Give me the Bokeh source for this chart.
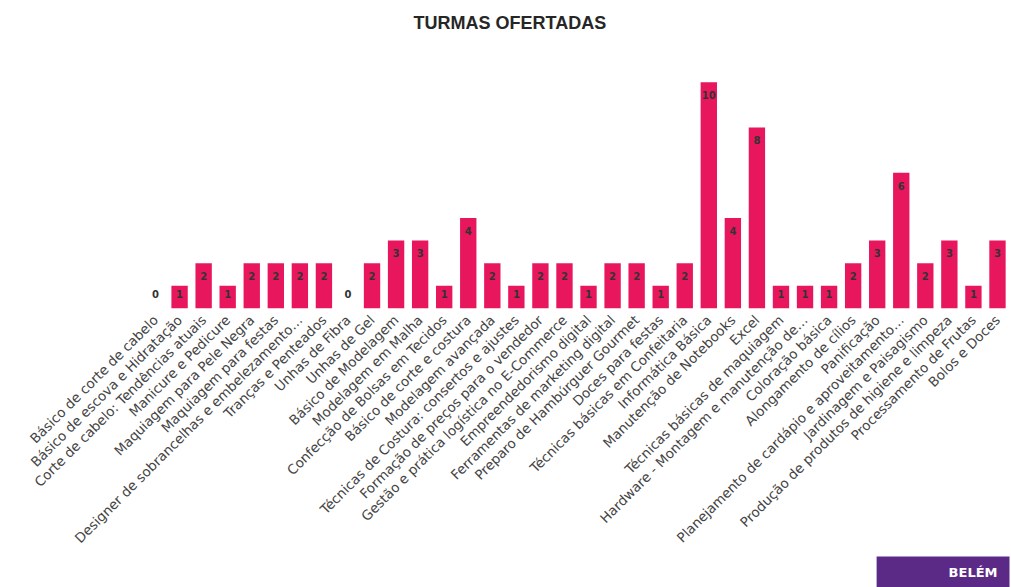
import math
from bokeh.plotting import figure
from bokeh.models import ColumnDataSource, FactorRange, Range1d, Title
from bokeh.core.properties import value
from bokeh.embed import file_html
from bokeh.resources import INLINE

title_text = "TURMAS OFERTADAS"
logo_text = "BELÉM"

cursos = [
    "Básico de corte de cabelo",
    "Básico de escova e Hidratação",
    "Corte de cabelo: Tendências atuais",
    "Manicure e Pedicure",
    "Maquiagem para Pele Negra",
    "Maquiagem para festas",
    "Designer de sobrancelhas e embelezamento…",
    "Tranças e Penteados",
    "Unhas de Fibra",
    "Unhas de Gel",
    "Básico de Modelagem",
    "Modelagem em Malha",
    "Confecção de Bolsas em Tecidos",
    "Básico de corte e costura",
    "Modelagem avançada",
    "Técnicas de Costura: consertos e ajustes",
    "Formação de preços para o vendedor",
    "Gestão e prática logística no E-Commerce",
    "Empreendedorismo digital",
    "Ferramentas de marketing digital",
    "Preparo de Hambúrguer Gourmet",
    "Doces para festas",
    "Técnicas básicas em Confeitaria",
    "Informática Básica",
    "Manutenção de Notebooks",
    "Excel",
    "Técnicas básicas de maquiagem",
    "Hardware - Montagem e manutenção de…",
    "Coloração básica",
    "Alongamento de cílios",
    "Panificação",
    "Planejamento de cardápio e aproveitamento…",
    "Jardinagem e Paisagismo",
    "Produção de produtos de higiene e limpeza",
    "Processamento de Frutas",
    "Bolos e Doces",
]

turmas = [0, 1, 2, 1, 2, 2, 2, 2, 0, 2, 3, 3, 1, 4, 2, 1, 2, 2, 1, 2, 2, 1, 2,
          10, 4, 8, 1, 1, 1, 2, 3, 6, 2, 3, 1, 3]

label_y = [max(v - 0.57, 0.62) for v in turmas]

src = ColumnDataSource(dict(
    x=cursos, top=turmas, ly=label_y, txt=[str(v) for v in turmas]
))

p = figure(
    x_range=FactorRange(factors=cursos),
    y_range=Range1d(0, 11),
    width=1011, height=587,
    output_backend="svg", toolbar_location=None,
    min_border_left=143, min_border_right=2,
    min_border_top=59, min_border_bottom=277,
)

spacer = Title(text=" ", standoff=0, text_font="Liberation Sans",
               text_font_size="22px")
p.add_layout(spacer, "above")

title = Title(text=title_text, align="left", offset=270, standoff=0,
              text_font="Liberation Sans", text_font_size="18px",
              text_font_style="bold", text_color="#262626")
p.add_layout(title, "above")

p.vbar(x="x", top="top", width=0.68, source=src,
       fill_color="#E8175D", line_color=None)

p.text(x="x", y="ly", text="txt", source=src,
       text_align="center", text_baseline="middle",
       text_font=value("DejaVu Sans"), text_font_size="10px",
       text_font_style="bold", text_color="#333333")

p.yaxis.visible = False
p.xgrid.visible = False
p.ygrid.visible = False
p.outline_line_color = None
p.xaxis.axis_line_color = None
p.xaxis.major_tick_line_color = None
p.xaxis.minor_tick_line_color = None
p.xaxis.major_tick_out = 0
p.xaxis.major_tick_in = 0
p.xaxis.major_label_standoff = 9
p.xaxis.major_label_orientation = math.pi / 4
p.xaxis.major_label_text_font = "DejaVu Sans"
p.xaxis.major_label_text_font_size = "13.5px"
p.xaxis.major_label_text_color = "#454545"

logo = Title(text=logo_text, align="right", standoff=0,
             text_font="DejaVu Sans", text_font_size="13px",
             text_font_style="bold", text_color="white",
             background_fill_color="#5B2A86",
             padding=dict(top=8, right=12, bottom=8, left=72))
p.add_layout(logo, "below")

open("out.html", "w").write(file_html(p, INLINE))
